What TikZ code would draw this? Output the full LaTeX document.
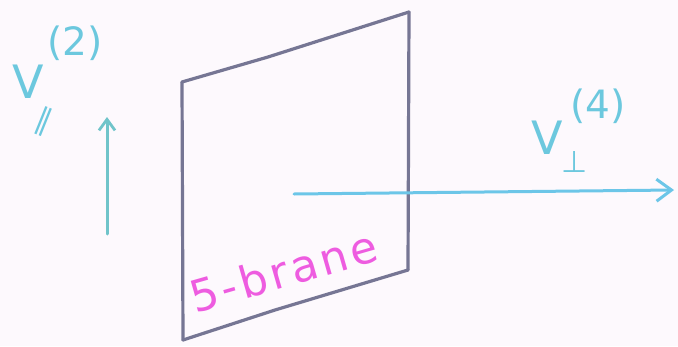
\documentclass[tikz,border=0pt]{standalone}
\usepackage{fontspec}
\setmainfont{DejaVu Sans}
\newfontfamily\branefont[LetterSpace=8]{DejaVu Sans}
\usetikzlibrary{arrows.meta}
\definecolor{bg}{RGB}{253,249,253}
\definecolor{branecol}{RGB}{118,118,148}
\definecolor{cyanlab}{RGB}{108,200,222}
\definecolor{tealarr}{RGB}{112,196,202}
\definecolor{bluearr}{RGB}{108,198,232}
\definecolor{magentalab}{RGB}{238,92,224}
\tikzset{
  braneline/.style={draw=branecol, line width=3.2pt, line cap=round, line join=round},
  vecarrow/.style={line width=3pt, line cap=round},
  biglab/.style={text=cyanlab, inner sep=0pt, font=\fontsize{46}{46}\selectfont},
  suplab/.style={text=cyanlab, inner sep=0pt, font=\fontsize{39}{39}\selectfont},
  sublab/.style={text=cyanlab, inner sep=0pt, font=\fontsize{30}{30}\selectfont},
}
\begin{document}
\begin{tikzpicture}[x=1pt,y=-1pt]
\fill[bg] (0,0) rectangle (678,346);
\useasboundingbox (0,0) rectangle (678,346);
% brane corners
\coordinate (tl) at (182,82);
\coordinate (tm) at (268,57);
\coordinate (tr) at (409,12);
\coordinate (br) at (408,270);
\coordinate (bm) at (275,310);
\coordinate (bl) at (183,340);
\draw[braneline] (tl) -- (tm) -- (tr);
\draw[braneline] (tr) -- (br);
\draw[braneline] (br) -- (bm) -- (bl);
\draw[braneline] (bl) -- (tl);
% perpendicular arrow
\coordinate (ps) at (294,194);
\coordinate (pe) at (674,190);
\draw[vecarrow, draw=bluearr, -{Straight Barb[length=15pt,width=22pt,line width=3pt]}] (ps) -- (pe);
% parallel arrow
\coordinate (vs) at (107,234);
\coordinate (ve) at (107,117);
\draw[vecarrow, draw=tealarr, -{Straight Barb[length=11pt,width=16pt,line width=2.8pt]}] (vs) -- (ve);
% labels
\node[biglab] (vpar) at (28,82) {V};
\node[suplab] (vparsup) at (75,43) {(2)};
\node[sublab, rotate=-22] (vparsub) at (44,122) {∥};
\node[biglab] (vperp) at (547,138) {V};
\node[suplab] (vperpsup) at (598,106) {(4)};
\node[sublab] (vperpsub) at (575,162) {⊥};
\node[text=magentalab, inner sep=0pt, anchor=base, rotate=16,
      font=\branefont\fontsize{44}{44}\selectfont] (brane) at (288,287) {5-brane};
\end{tikzpicture}
\end{document}
